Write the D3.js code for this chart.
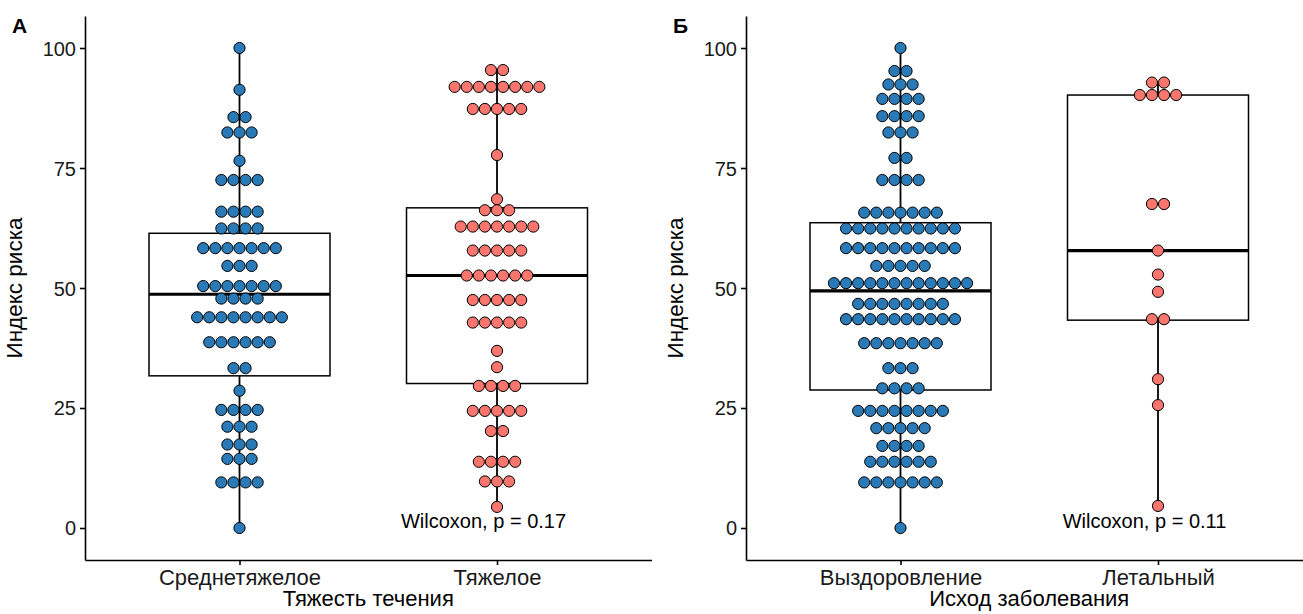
<!DOCTYPE html>
<html><head><meta charset="utf-8">
<script src="https://cdn.jsdelivr.net/npm/d3@7/dist/d3.min.js"></script>
<style>body{margin:0;background:#fff}svg{display:block}text{font-family:"Liberation Sans",Arial,sans-serif}</style>
</head><body><svg id="c" width="1303" height="614"></svg>
<script>
// ---- data ----
const catsA = ["Среднетяжелое", "Тяжелое"];
const catsB = ["Выздоровление", "Летальный"];
const yTicks = [0, 25, 50, 75, 100];

// individual point values (repeated values = stacked dots)
const valsModerate = [100, 91.3, 85.6,85.6, 82.4,82.4,82.4, 76.5, 72.5,72.5,72.5,72.5,
  65.9,65.9,65.9,65.9, 62.4,62.4,62.4,62.4, 58.3,58.3,58.3,58.3,58.3,58.3,58.3,
  54.6,54.6,54.6, 50.4,50.4,50.4,50.4,50.4,50.4,50.4, 47.8,47.8,47.8,47.8,
  43.9,43.9,43.9,43.9,43.9,43.9,43.9,43.9, 38.7,38.7,38.7,38.7,38.7,38.7,
  33.3,33.3, 28.6, 24.6,24.6,24.6,24.6, 21.1,21.1,21.1, 17.4,17.4,17.4,
  14.4,14.4,14.4, 9.5,9.5,9.5,9.5, 0];
const valsSevere = [95.4,95.4, 91.9,91.9,91.9,91.9,91.9,91.9,91.9,91.9, 87.3,87.3,87.3,87.3,87.3,
  77.7, 68.5, 66.2,66.2,66.2, 62.8,62.8,62.8,62.8,62.8,62.8,62.8, 57.8,57.8,57.8,57.8,57.8,
  52.6,52.6,52.6,52.6,52.6,52.6, 47.5,47.5,47.5,47.5,47.5, 42.8,42.8,42.8,42.8,42.8,
  36.9, 33.5, 29.6,29.6,29.6,29.6, 24.4,24.4,24.4,24.4,24.4, 20.2,20.2,
  13.8,13.8,13.8,13.8, 9.7,9.7,9.7, 4.4];
const valsRecovery = [100, 95.2,95.2, 92.4,92.4,92.4, 89.4,89.4,89.4,89.4, 85.8,85.8,85.8,85.8,
  82.4,82.4,82.4, 77.1,77.1, 72.5,72.5,72.5,72.5, 65.7,65.7,65.7,65.7,65.7,65.7,65.7,
  62.4,62.4,62.4,62.4,62.4,62.4,62.4,62.4,62.4,62.4, 58.3,58.3,58.3,58.3,58.3,58.3,58.3,58.3,58.3,58.3,
  54.6,54.6,54.6,54.6,54.6, 51.0,51.0,51.0,51.0,51.0,51.0,51.0,51.0,51.0,51.0,51.0,51.0,
  46.7,46.7,46.7,46.7,46.7,46.7,46.7,46.7, 43.5,43.5,43.5,43.5,43.5,43.5,43.5,43.5,43.5,43.5,
  38.5,38.5,38.5,38.5,38.5,38.5,38.5, 33.3,33.3,33.3, 29.1,29.1,29.1,29.1,
  24.4,24.4,24.4,24.4,24.4,24.4,24.4,24.4, 20.8,20.8,20.8,20.8,20.8, 17.1,17.1,17.1,17.1,
  13.8,13.8,13.8,13.8,13.8,13.8, 9.5,9.5,9.5,9.5,9.5,9.5,9.5, 0];
const valsLethal = [92.8,92.8, 90.2,90.2,90.2,90.2, 67.5,67.5, 57.8, 52.8, 49.2, 43.5,43.5, 31.0, 25.6, 4.6];

// box statistics [whiskerLow, q1, median, q3, whiskerHigh]
const boxModerate = [0, 31.7, 48.7, 61.4, 100];
const boxSevere   = [4.4, 30.1, 52.6, 66.7, 95.4];
const boxRecovery = [0, 28.75, 49.4, 63.6, 100];
const boxLethal   = [4.6, 43.3, 57.8, 90.2, 92.8];

const pvalA = "Wilcoxon, p = 0.17";
const pvalB = "Wilcoxon, p = 0.11";

const colBlue = "#2a7ab8", colRed = "#f8766d";

const panels = [
  {tag:"А", x0:85, cats:catsA, vals:[valsModerate, valsSevere], boxes:[boxModerate, boxSevere],
   xTitle:"Тяжесть течения", pval:pvalA},
  {tag:"Б", x0:746, cats:catsB, vals:[valsRecovery, valsLethal], boxes:[boxRecovery, boxLethal],
   xTitle:"Исход заболевания", pval:pvalB}
];

const svg = d3.select("#c");
const yTop = 16, yBot = 560, plotW = 566.5;
const y = d3.scaleLinear().domain([-6.667, 106.667]).range([yBot, yTop]);
const dotD = 12.1, boxW = 181;
const colors = [colBlue, colRed];

panels.forEach(p => {
  const g = svg.append("g");
  const x = d3.scalePoint().domain(p.cats).range([p.x0, p.x0 + plotW]).padding(0.6);

  // boxes + whiskers
  p.cats.forEach((c, i) => {
    const b = p.boxes[i], cx = x(c);
    g.append("line").attr("x1", cx).attr("x2", cx).attr("y1", y(b[0])).attr("y2", y(b[1]))
      .attr("stroke", "#000").attr("stroke-width", 1.8);
    g.append("line").attr("x1", cx).attr("x2", cx).attr("y1", y(b[3])).attr("y2", y(b[4]))
      .attr("stroke", "#000").attr("stroke-width", 1.8);
    g.append("rect").attr("x", cx - boxW/2).attr("width", boxW)
      .attr("y", y(b[3])).attr("height", y(b[1]) - y(b[3]))
      .attr("fill", "none").attr("stroke", "#000").attr("stroke-width", 1.5);
    g.append("line").attr("x1", cx - boxW/2).attr("x2", cx + boxW/2)
      .attr("y1", y(b[2])).attr("y2", y(b[2])).attr("stroke", "#000").attr("stroke-width", 3.2);
  });

  // dots
  p.cats.forEach((c, i) => {
    const rows = d3.rollups(p.vals[i], v => v.length, v => v);
    const pts = [];
    rows.forEach(([v, k]) => { for (let j = 0; j < k; j++) pts.push({v, off: (j - (k - 1) / 2) * dotD}); });
    g.selectAll(null).data(pts).join("circle")
      .attr("cx", d => x(c) + d.off).attr("cy", d => y(d.v)).attr("r", 5.6)
      .attr("fill", colors[i]).attr("stroke", "#000").attr("stroke-width", 1);
  });

  // axes
  const ya = g.append("g").attr("transform", `translate(${p.x0},0)`)
    .call(d3.axisLeft(y).tickValues(yTicks).tickSize(5).tickSizeOuter(0).tickPadding(4));
  const xa = g.append("g").attr("transform", `translate(0,${yBot})`)
    .call(d3.axisBottom(x).tickSize(5).tickSizeOuter(0).tickPadding(4));
  [ya, xa].forEach(a => {
    a.select(".domain").attr("stroke", "#000").attr("stroke-width", 1.6);
    a.selectAll(".tick line").attr("stroke", "#000").attr("stroke-width", 1.6);
    a.selectAll(".tick text").attr("fill", "#1a1a1a")
      .style("font-family", '"Liberation Sans", Arial, sans-serif');
  });
  ya.selectAll(".tick text").attr("dy", "0.35em").style("font-size", "20px");
  xa.selectAll(".tick text").attr("dy", "0.74em").style("font-size", "22px");

  // titles
  g.append("text").attr("transform", `translate(${p.x0 - 63},${(yTop + yBot) / 2}) rotate(-90)`)
    .attr("text-anchor", "middle").style("font-size", "22.5px").attr("fill", "#000").text("Индекс риска");
  g.append("text").attr("x", p.x0 + plotW / 2).attr("y", 606)
    .attr("text-anchor", "middle").style("font-size", "22px").attr("fill", "#000").text(p.xTitle);
  g.append("text").attr("x", p.x0 - 73).attr("y", 33)
    .style("font-size", "21px").style("font-weight", "bold").attr("fill", "#000").text(p.tag);
  // p value
  g.append("text").attr("x", p.x0 + plotW * 0.7035).attr("y", y(0))
    .attr("text-anchor", "middle").style("font-size", "20px").attr("fill", "#000").text(p.pval);
});
</script></body></html>
